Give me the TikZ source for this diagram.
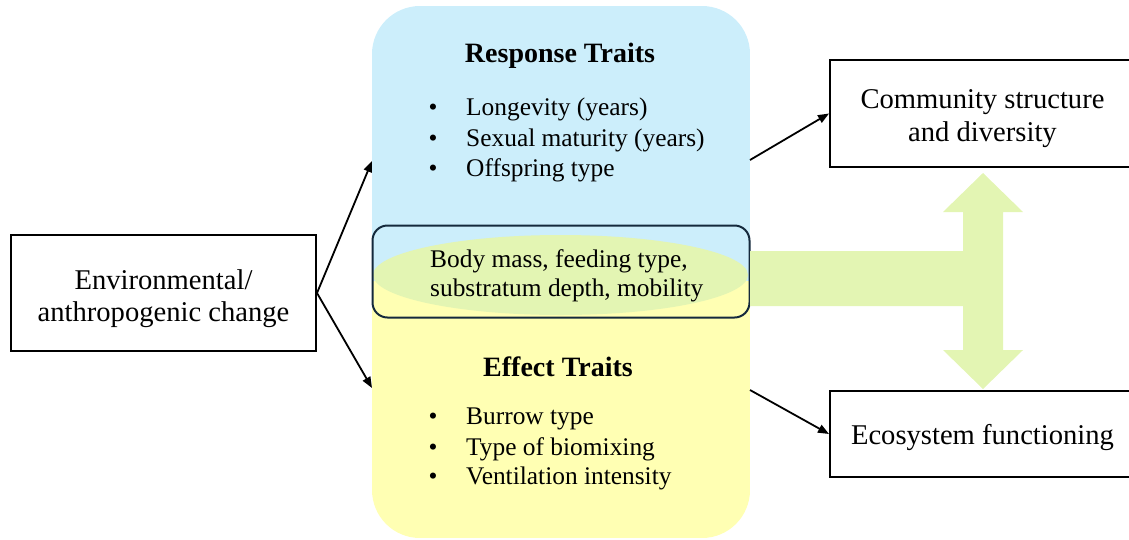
\documentclass[tikz,border=0pt]{standalone}
\usepackage{fontspec}
\setmainfont{Liberation Serif}
\usetikzlibrary{arrows.meta}
\definecolor{respblue}{HTML}{CCEEFB}
\definecolor{effyellow}{HTML}{FFFFB3}
\definecolor{sharedgreen}{HTML}{E3F5B3}
\definecolor{navyline}{HTML}{14293C}
\begin{document}
\begin{tikzpicture}[x=1pt,y=-1pt,
  box/.style={draw=black, line width=2pt, fill=white, inner sep=0pt},
  boxtext/.style={inner sep=0pt, align=center, font=\fontsize{28.6}{32.5}\selectfont},
  conn/.style={-{Triangle[length=11pt,width=8.5pt]}, line width=1.8pt, black},
  title/.style={anchor=base, inner sep=0pt, font=\fontsize{28}{32}\selectfont\bfseries},
  bul/.style={anchor=base, inner sep=0pt, font=\fontsize{25.4}{30}\selectfont},
  item/.style={anchor=base west, inner sep=0pt, font=\fontsize{25.4}{30}\selectfont}]
\useasboundingbox (0,0) rectangle (1129,539);

% trait panel: response (blue) above, effect (yellow) below
\begin{scope}
  \path[clip, rounded corners=48pt] (372,6) rectangle (750,538);
  \fill[respblue] (372,6) rectangle (750,281);
  \fill[effyellow] (372,281) rectangle (750,538);
\end{scope}

% shared traits
\fill[sharedgreen] (560.5,275) ellipse [x radius=187.5pt, y radius=40pt];
\node[draw=navyline, line width=2pt, rounded corners=15pt, minimum width=377pt,
  minimum height=92pt, inner sep=0pt] (shared) at (561,271.5) {};
\node[item] (sh1) at (430,267) {Body mass, feeding type,};
\node[item] (sh2) at (430,296) {substratum depth, mobility};

% T-shaped double arrow from the shared traits
\fill[sharedgreen] (750,251) -- (963,251) -- (963,212) -- (943,212) -- (983,173)
  -- (1023,212) -- (1003,212) -- (1003,350) -- (1023,350) -- (983,389)
  -- (943,350) -- (963,350) -- (963,306) -- (750,306) -- cycle;

% response traits
\node[title] (rtitle) at (560,62) {Response Traits};
\foreach \y/\t [count=\i] in {115/Longevity (years), 146.5/Sexual maturity (years), 176/Offspring type}{
  \node[bul] (rb\i) at (433,\y) {•};
  \node[item] (ri\i) at (466,\y) {\t};
}

% effect traits
\node[title] (etitle) at (558,376.5) {Effect Traits};
\foreach \y/\t [count=\i] in {424/Burrow type, 455/Type of biomixing, 484/Ventilation intensity}{
  \node[bul] (eb\i) at (433,\y) {•};
  \node[item] (ei\i) at (466,\y) {\t};
}

% outer boxes
\node[box, minimum width=305pt, minimum height=116pt] (env) at (163.5,293) {};
\node[box, minimum width=305pt, minimum height=107pt] (comm) at (982.5,113.5) {};
\node[box, minimum width=305pt, minimum height=86pt] (eco) at (982.5,434) {};
\node[boxtext] (envtxt) at ([yshift=-5.5pt]env.center) {Environmental/\\anthropogenic change};
\node[boxtext] (commtxt) at ([yshift=-5pt]comm.center) {Community structure\\and diversity};
\node[boxtext] (ecotxt) at ([yshift=-4pt]eco.center) {Ecosystem functioning};

% connectors
\coordinate (rin) at (372,161);
\coordinate (ein) at (372,388);
\coordinate (rout) at (750,160);
\coordinate (eout) at (750,390);
\draw[conn] (env.east) -- (rin);
\draw[conn] (env.east) -- (ein);
\draw[conn] (rout) -- (comm.west);
\draw[conn] (eout) -- (eco.west);
\end{tikzpicture}
\end{document}
